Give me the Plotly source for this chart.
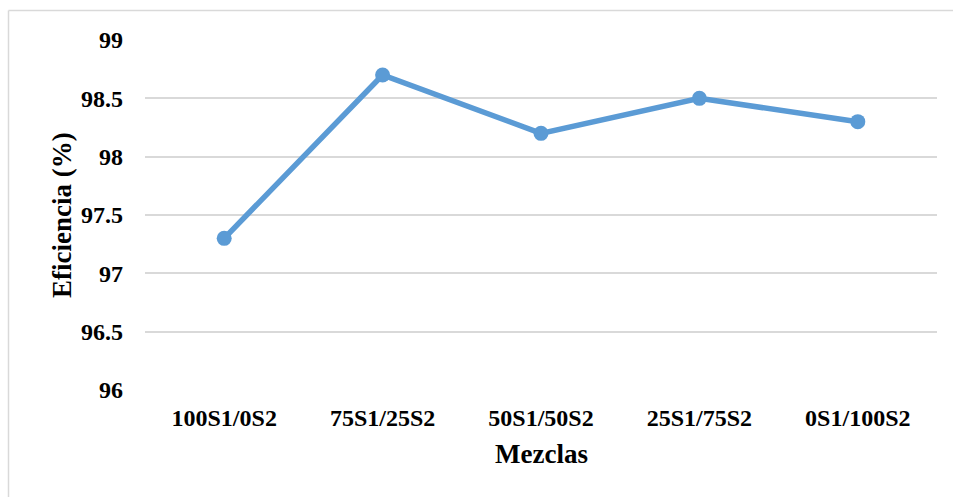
import plotly.graph_objects as go

# Data
mezclas = ["100S1/0S2", "75S1/25S2", "50S1/50S2", "25S1/75S2", "0S1/100S2"]
eficiencia = [97.3, 98.7, 98.2, 98.5, 98.3]
y_ticks = [96, 96.5, 97, 97.5, 98, 98.5, 99]
y_tick_labels = ["96", "96.5", "97", "97.5", "98", "98.5", "99"]

W, H = 953, 497
ML, MR, MT, MB = 145, 16, 40, 107
PW, PH = W - ML - MR, H - MT - MB

def px_x(x):
    return (x - ML) / PW

def px_y(y):
    return (H - MB - y) / PH

FONT = "Liberation Serif"
LINE_COLOR = "#5B9BD5"

fig = go.Figure()
fig.add_trace(go.Scatter(
    x=mezclas, y=eficiencia, mode="lines+markers",
    line=dict(color=LINE_COLOR, width=5.5),
    marker=dict(color=LINE_COLOR, size=15),
    showlegend=False, cliponaxis=False,
))

fig.update_layout(
    width=W, height=H,
    margin=dict(l=ML, r=MR, t=MT, b=MB, autoexpand=False),
    paper_bgcolor="white", plot_bgcolor="white",
    font=dict(family=FONT, color="black"),
    xaxis=dict(
        type="category", range=[-0.5, len(mezclas) - 0.5],
        showgrid=False, zeroline=False, showline=False,
        ticks="", ticklabelstandoff=11,
        tickfont=dict(family=FONT, size=24, weight="bold", color="black"),
        automargin=False,
    ),
    yaxis=dict(
        range=[96, 99], tickvals=y_ticks, ticktext=y_tick_labels,
        showgrid=True, gridcolor="#D9D9D9", gridwidth=1.5,
        zeroline=False, showline=False, ticks="", ticklabelstandoff=21,
        tickfont=dict(family=FONT, size=24, weight="bold", color="black"),
        automargin=False,
    ),
    annotations=[
        dict(text="Mezclas", xref="paper", yref="paper",
             x=0.5, y=px_y(454), xanchor="center", yanchor="middle",
             showarrow=False,
             font=dict(family=FONT, size=27, weight="bold", color="black")),
        dict(text="Eficiencia (%)", xref="paper", yref="paper",
             x=px_x(62), y=0.5, xanchor="center", yanchor="middle",
             textangle=-90, showarrow=False,
             font=dict(family=FONT, size=27, weight="bold", color="black")),
    ],
    shapes=[
        # chart frame: left and top edges
        dict(type="line", xref="paper", yref="paper",
             x0=px_x(8.5), x1=px_x(8.5), y0=px_y(10.5), y1=px_y(H + 5),
             line=dict(color="#D9D9D9", width=1.5)),
        dict(type="line", xref="paper", yref="paper",
             x0=px_x(8.5), x1=px_x(W + 5), y0=px_y(10.5), y1=px_y(10.5),
             line=dict(color="#D9D9D9", width=1.5)),
    ],
)

fig.write_html("out.html")
